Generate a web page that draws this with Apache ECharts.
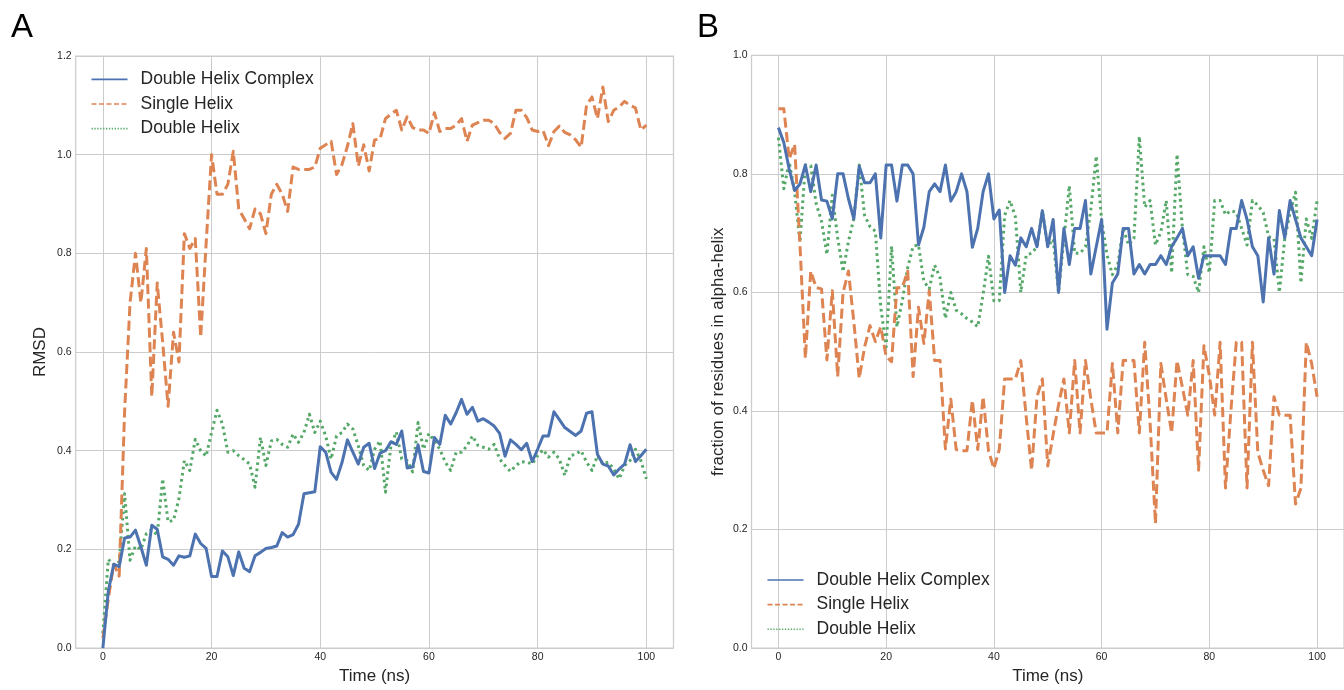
<!DOCTYPE html>
<html>
<head>
<meta charset="utf-8">
<script src="https://cdn.jsdelivr.net/npm/echarts@6/dist/echarts.min.js"></script>
<style>
html,body{margin:0;padding:0;background:#fff;}
#chart{width:1344px;height:690px;}
</style>
</head>
<body>
<div id="chart"></div>
<script>
const time = [0,1,2,3,4,5,6,7,8,9,10,11,12,13,14,15,16,17,18,19,20,21,22,23,24,25,26,27,28,29,30,31,32,33,34,35,36,37,38,39,40,41,42,43,44,45,46,47,48,49,50,51,52,53,54,55,56,57,58,59,60,61,62,63,64,65,66,67,68,69,70,71,72,73,74,75,76,77,78,79,80,81,82,83,84,85,86,87,88,89,90,91,92,93,94,95,96,97,98,99,100];
const seriesNames = ['Double Helix Complex', 'Single Helix', 'Double Helix'];
const xTicks = [0, 20, 40, 60, 80, 100];

// Panel A: RMSD
const rmsdComplex = [0.0,0.115,0.17,0.165,0.223,0.225,0.239,0.205,0.168,0.249,0.241,0.185,0.18,0.168,0.187,0.184,0.187,0.231,0.212,0.202,0.145,0.145,0.197,0.185,0.147,0.195,0.162,0.155,0.187,0.194,0.202,0.204,0.207,0.234,0.225,0.23,0.251,0.313,0.315,0.317,0.408,0.397,0.356,0.342,0.376,0.422,0.397,0.373,0.407,0.415,0.364,0.395,0.4,0.418,0.413,0.44,0.365,0.367,0.412,0.358,0.355,0.427,0.413,0.472,0.454,0.477,0.504,0.474,0.488,0.46,0.465,0.458,0.45,0.435,0.389,0.422,0.413,0.402,0.415,0.378,0.403,0.43,0.43,0.479,0.463,0.447,0.439,0.431,0.44,0.476,0.479,0.393,0.373,0.369,0.351,0.363,0.373,0.412,0.378,0.39,0.403];
const rmsdSingle = [0.02,0.10,0.17,0.146,0.48,0.70,0.80,0.70,0.81,0.51,0.74,0.62,0.49,0.64,0.58,0.84,0.81,0.83,0.63,0.82,1.0,0.92,0.92,0.94,1.007,0.89,0.87,0.85,0.89,0.88,0.84,0.92,0.94,0.92,0.885,0.975,0.97,0.97,0.97,0.975,1.013,1.02,1.027,0.96,0.98,1.017,1.063,0.977,1.02,0.967,1.03,1.032,1.073,1.082,1.09,1.05,1.077,1.055,1.05,1.05,1.043,1.085,1.047,1.053,1.053,1.06,1.073,1.027,1.06,1.065,1.07,1.07,1.063,1.045,1.033,1.043,1.09,1.09,1.075,1.05,1.047,1.049,1.018,1.047,1.058,1.045,1.04,1.03,1.015,1.10,1.117,1.073,1.137,1.067,1.09,1.097,1.108,1.10,1.095,1.05,1.06];
const rmsdDouble = [0.03,0.18,0.168,0.175,0.313,0.178,0.207,0.2,0.232,0.24,0.229,0.343,0.256,0.259,0.303,0.38,0.36,0.423,0.40,0.389,0.437,0.482,0.454,0.397,0.40,0.39,0.382,0.373,0.326,0.427,0.37,0.42,0.423,0.413,0.407,0.434,0.417,0.437,0.474,0.437,0.46,0.43,0.383,0.43,0.437,0.454,0.444,0.41,0.37,0.36,0.403,0.42,0.316,0.41,0.438,0.383,0.38,0.357,0.457,0.403,0.435,0.42,0.403,0.377,0.36,0.397,0.397,0.41,0.43,0.411,0.407,0.403,0.413,0.383,0.37,0.358,0.37,0.378,0.377,0.373,0.39,0.402,0.387,0.397,0.383,0.35,0.39,0.393,0.40,0.377,0.36,0.39,0.373,0.377,0.363,0.343,0.37,0.38,0.403,0.38,0.343];

// Panel B: fraction of residues in alpha-helix
const helixComplex = [0.878,0.853,0.808,0.772,0.783,0.815,0.77,0.815,0.756,0.754,0.724,0.80,0.80,0.758,0.724,0.813,0.785,0.785,0.80,0.692,0.815,0.815,0.754,0.815,0.815,0.80,0.68,0.71,0.77,0.783,0.77,0.815,0.754,0.77,0.80,0.77,0.676,0.708,0.77,0.80,0.724,0.739,0.60,0.662,0.646,0.692,0.677,0.708,0.677,0.738,0.677,0.723,0.60,0.708,0.647,0.708,0.708,0.755,0.631,0.677,0.723,0.538,0.616,0.631,0.708,0.708,0.631,0.647,0.631,0.647,0.647,0.662,0.647,0.677,0.692,0.708,0.662,0.677,0.624,0.662,0.662,0.662,0.662,0.647,0.708,0.708,0.755,0.723,0.677,0.662,0.584,0.692,0.631,0.738,0.692,0.755,0.723,0.692,0.677,0.662,0.723];
const helixSingle = [0.91,0.91,0.825,0.85,0.68,0.489,0.636,0.608,0.606,0.486,0.603,0.458,0.60,0.636,0.55,0.455,0.508,0.544,0.517,0.542,0.492,0.483,0.608,0.608,0.636,0.458,0.575,0.514,0.603,0.485,0.485,0.336,0.42,0.335,0.333,0.333,0.418,0.335,0.424,0.333,0.303,0.335,0.454,0.454,0.454,0.485,0.39,0.30,0.424,0.454,0.307,0.36,0.41,0.454,0.363,0.485,0.363,0.485,0.42,0.363,0.363,0.363,0.48,0.363,0.485,0.485,0.485,0.363,0.516,0.38,0.21,0.48,0.42,0.363,0.485,0.44,0.393,0.485,0.30,0.51,0.46,0.393,0.516,0.27,0.40,0.516,0.516,0.27,0.516,0.33,0.30,0.274,0.424,0.393,0.393,0.393,0.243,0.27,0.516,0.48,0.424];
const helixDouble = [0.861,0.775,0.82,0.77,0.685,0.815,0.814,0.75,0.72,0.664,0.764,0.692,0.635,0.686,0.725,0.815,0.73,0.711,0.703,0.575,0.508,0.678,0.542,0.586,0.642,0.678,0.68,0.619,0.606,0.646,0.625,0.556,0.6,0.57,0.564,0.556,0.55,0.542,0.597,0.661,0.586,0.586,0.73,0.755,0.727,0.60,0.663,0.666,0.677,0.737,0.677,0.69,0.60,0.69,0.78,0.666,0.666,0.677,0.74,0.83,0.722,0.663,0.63,0.647,0.708,0.68,0.691,0.863,0.744,0.755,0.68,0.702,0.755,0.633,0.833,0.708,0.63,0.627,0.60,0.677,0.633,0.755,0.755,0.731,0.738,0.735,0.708,0.68,0.755,0.747,0.735,0.694,0.691,0.60,0.691,0.735,0.769,0.616,0.724,0.691,0.755];

const FONT = '"Liberation Sans", Arial, Helvetica, sans-serif';
const TXT = '#262626';
const GRIDC = '#cccccc';
const colors = ['#4C72B0', '#DD8452', '#55A868'];
const lineTypes = ['solid', [10, 4.5], [2.6, 3.6]];
const legendTypes = ['solid', [5, 2.5], [1.3, 1.6]];

function pairs(vals) { return time.map((t, i) => [t, vals[i]]); }

function xAxisCfg(gi) {
  return {
    gridIndex: gi, type: 'value', min: -5, max: 105,
    axisLine: { show: false },
    axisTick: { show: false, customValues: xTicks },
    axisLabel: { customValues: xTicks, fontSize: 10.5, color: TXT, fontFamily: FONT, margin: 4 },
    splitLine: { show: true, lineStyle: { color: GRIDC, width: 1 } },
    name: 'Time (ns)', nameLocation: 'middle', nameGap: 16,
    nameTextStyle: { fontSize: 17, color: TXT, fontFamily: FONT }
  };
}
function yAxisCfg(gi, max, name, gap) {
  return {
    gridIndex: gi, type: 'value', min: 0, max: max, interval: 0.2,
    axisLine: { show: false }, axisTick: { show: false },
    axisLabel: { fontSize: 10.5, color: TXT, fontFamily: FONT, margin: 4, formatter: v => v.toFixed(1) },
    splitLine: { show: true, lineStyle: { color: GRIDC, width: 1 } },
    name: name, nameLocation: 'middle', nameGap: gap,
    nameTextStyle: { fontSize: 17, color: TXT, fontFamily: FONT }
  };
}
function mkSeries(vals, k, gi) {
  return {
    name: seriesNames[k], type: 'line', xAxisIndex: gi, yAxisIndex: gi,
    data: pairs(vals), symbol: 'none', showSymbol: false, smooth: false, animation: false,
    lineStyle: { color: colors[k], width: 3, type: lineTypes[k], cap: 'butt', join: 'round' },
    itemStyle: { color: colors[k] }, z: 3 - k
  };
}
function legendCfg(left, top) {
  return {
    orient: 'vertical', left: left, top: top, padding: 0,
    itemWidth: 36, itemHeight: 14, itemGap: 6.6,
    textStyle: { fontSize: 17.5, color: TXT, fontFamily: FONT, padding: [0, 0, 0, 8] },
    data: seriesNames.map((n, k) => ({
      name: n,
      itemStyle: { opacity: 0, borderWidth: 0 },
      lineStyle: { color: colors[k], width: 1.6, type: legendTypes[k] }
    }))
  };
}

const chart = echarts.init(document.getElementById('chart'), null, { renderer: 'canvas' });
chart.setOption({
  animation: false,
  backgroundColor: '#ffffff',
  title: [
    { text: 'A', left: 11, top: 11, padding: 0, textStyle: { fontSize: 33, fontWeight: 'normal', color: '#000', fontFamily: FONT } },
    { text: 'B', left: 697, top: 11, padding: 0, textStyle: { fontSize: 33, fontWeight: 'normal', color: '#000', fontFamily: FONT } }
  ],
  grid: [
    { left: 75.7, top: 56, width: 597.8, height: 598.3, show: true, borderColor: GRIDC, borderWidth: 1.25, backgroundColor: 'transparent' },
    { left: 751.5, top: 55.3, width: 599, height: 599, show: true, borderColor: GRIDC, borderWidth: 1.25, backgroundColor: 'transparent' }
  ],
  xAxis: [xAxisCfg(0), xAxisCfg(1)],
  yAxis: [yAxisCfg(0, 1.2, 'RMSD', 27), yAxisCfg(1, 1.0, 'fraction of residues in alpha-helix', 25)],
  legend: [legendCfg(90.7, 70.4), legendCfg(766.7, 571)],
  series: [
    mkSeries(rmsdComplex, 0, 0), mkSeries(rmsdSingle, 1, 0), mkSeries(rmsdDouble, 2, 0),
    mkSeries(helixComplex, 0, 1), mkSeries(helixSingle, 1, 1), mkSeries(helixDouble, 2, 1)
  ]
});
</script>
</body>
</html>
